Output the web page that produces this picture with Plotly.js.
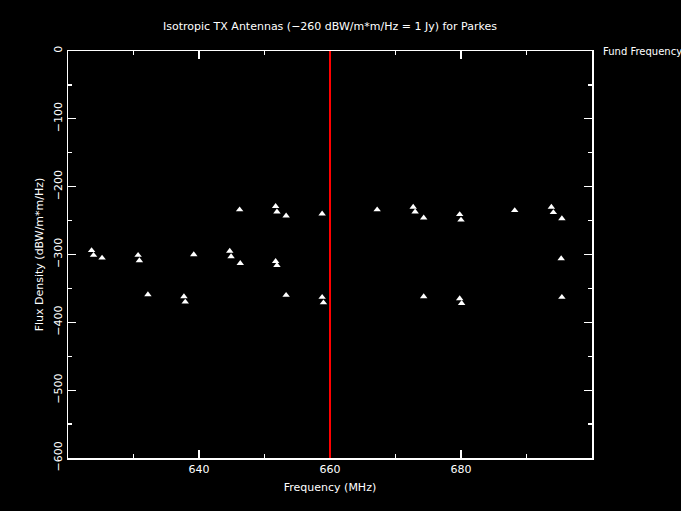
<!DOCTYPE html>
<html>
<head>
<meta charset="utf-8">
<script src="https://cdn.plot.ly/plotly-3.0.1.min.js"></script>
<style>
html,body{margin:0;padding:0;background:#000;}
#chart{width:681px;height:511px;}
</style>
</head>
<body>
<div id="chart"></div>
<script>
// Measured emitter frequencies (MHz) and flux densities (dBW/m*m/Hz)
const freqMHz = [
  623.6, 623.9, 625.2, 630.7, 630.9, 632.2, 637.7, 637.9, 639.2,
  644.7, 644.9, 646.2, 646.3, 651.7, 651.9, 653.3, 651.7, 651.9, 653.3,
  658.8, 658.8, 659.0,
  667.2, 672.7, 673.0, 674.3, 674.3, 679.8, 680.0, 679.8, 680.1,
  688.2, 693.8, 694.1, 695.4, 695.3, 695.4
];
const fluxDensity = [
  -294, -301, -305, -301, -309, -359, -362, -370, -300,
  -295, -303, -234, -313, -229, -237, -243, -310, -316, -360,
  -240, -363, -371,
  -234, -230, -237, -246, -362, -241, -249, -365, -372,
  -235, -230, -238, -247, -306, -363
];
const fundFrequency = 660;
const yRange = [-600, 0];
const xRange = [620, 700];
const xTickVals = [640, 660, 680];
const yTickVals = [0, -100, -200, -300, -400, -500, -600];

const font = {family: 'DejaVu Sans, sans-serif', size: 11, color: '#ffffff'};

const traces = [
  {
    x: freqMHz, y: fluxDensity, type: 'scatter', mode: 'markers',
    marker: {symbol: 'triangle-up', size: 6.5, color: '#ffffff', line: {width: 0}},
    showlegend: false, hoverinfo: 'skip'
  }
];

const axisCommon = {
  showline: true, linecolor: '#ffffff', linewidth: 1.5, mirror: 'allticks',
  ticks: 'inside', tickcolor: '#ffffff', tickwidth: 1.2, ticklen: 8,
  showgrid: false, zeroline: false, tickfont: font
};

const layout = {
  width: 681, height: 511,
  paper_bgcolor: '#000000', plot_bgcolor: '#000000',
  font: font,
  margin: {l: 68, r: 89, t: 51, b: 53},
  title: {text: 'Isotropic TX Antennas (\u2212260 dBW/m*m/Hz = 1 Jy) for Parkes',
          font: font, x: 0.4846, xanchor: 'center', y: 0.949, yanchor: 'middle'},
  xaxis: Object.assign({}, axisCommon, {
    range: xRange, tickmode: 'array', tickvals: xTickVals,
    ticktext: xTickVals.map(String),
    minor: {dtick: 10, tick0: 620, ticks: 'inside', ticklen: 4, tickcolor: '#ffffff', tickwidth: 1.2},
    title: {text: 'Frequency (MHz)', font: font, standoff: 8}
  }),
  yaxis: Object.assign({}, axisCommon, {
    range: yRange, tickmode: 'array', tickvals: yTickVals,
    tickangle: -90,
    minor: {dtick: 50, tick0: 0, ticks: 'inside', ticklen: 4, tickcolor: '#ffffff', tickwidth: 1.2},
    title: {text: 'Flux Density (dBW/m*m/Hz)', font: font, standoff: 6}
  }),
  shapes: [{
    type: 'line', xref: 'x', yref: 'y',
    x0: fundFrequency, x1: fundFrequency, y0: yRange[0], y1: yRange[1],
    line: {color: '#ff0000', width: 2}, layer: 'above'
  }],
  annotations: [{
    text: 'Fund Frequency', xref: 'paper', yref: 'paper', x: 1.018, y: 1,
    xanchor: 'left', yanchor: 'middle', showarrow: false,
    font: {family: 'DejaVu Sans, sans-serif', size: 10, color: '#ffffff'}
  }]
};

Plotly.newPlot('chart', traces, layout, {staticPlot: true, displayModeBar: false});
</script>
</body>
</html>
